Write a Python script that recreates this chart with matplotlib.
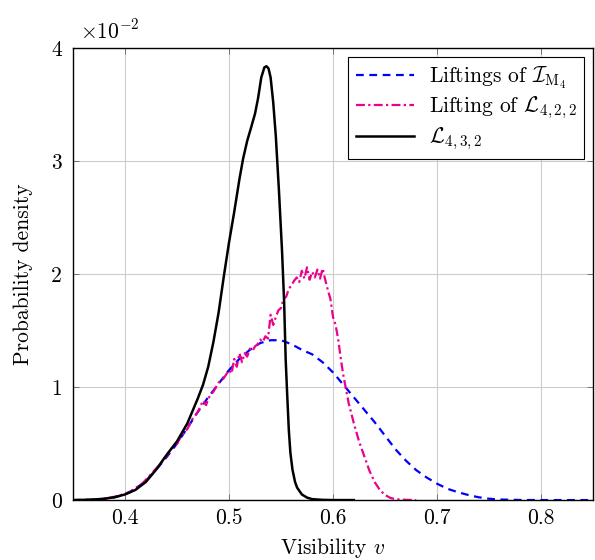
import matplotlib
matplotlib.use("Agg")
import matplotlib.pyplot as plt
import numpy as np

plt.rcParams.update({
    "font.family": "serif",
    "font.serif": ["cmr10", "DejaVu Serif"],
    "mathtext.fontset": "cm",
    "axes.formatter.use_mathtext": True,
    "font.size": 15.5,
})

# values are in units of 1e-2
blue_v = [0.35, 0.36, 0.37, 0.38, 0.39, 0.40, 0.41, 0.42, 0.43, 0.44, 0.45, 0.46,
          0.47, 0.48, 0.49, 0.50, 0.51, 0.52, 0.53, 0.54, 0.55, 0.56, 0.57, 0.58,
          0.59, 0.60, 0.61, 0.62, 0.63, 0.64, 0.65, 0.66, 0.67, 0.68, 0.69, 0.70,
          0.71, 0.72, 0.73, 0.74, 0.75, 0.76, 0.78, 0.80, 0.85]
blue_d = [0.0, 0.001, 0.003, 0.01, 0.025, 0.05, 0.10, 0.17, 0.27, 0.38, 0.50, 0.64,
          0.78, 0.91, 1.03, 1.15, 1.25, 1.33, 1.39, 1.415, 1.415, 1.38, 1.33, 1.29,
          1.22, 1.13, 1.02, 0.91, 0.80, 0.69, 0.57, 0.45, 0.35, 0.265, 0.20, 0.145,
          0.10, 0.07, 0.045, 0.025, 0.012, 0.005, 0.001, 0.0, 0.0]

mag_v = [0.350, 0.360, 0.370, 0.380, 0.390, 0.395, 0.400, 0.405, 0.410, 0.415,
         0.420, 0.425, 0.430, 0.435, 0.440, 0.445, 0.450, 0.455, 0.460, 0.465,
         0.470, 0.475, 0.478, 0.480, 0.485, 0.490, 0.495, 0.500, 0.5025, 0.505,
         0.5075, 0.510, 0.5125, 0.515, 0.5175, 0.520, 0.5225, 0.525, 0.5275, 0.530,
         0.5325, 0.535, 0.5375, 0.540, 0.5425, 0.545, 0.5475, 0.550, 0.5525, 0.555,
         0.5575, 0.560, 0.5625, 0.565, 0.5675, 0.570, 0.5725, 0.575, 0.5775, 0.580,
         0.5825, 0.585, 0.5875, 0.590, 0.5925, 0.595, 0.5975, 0.600, 0.6025, 0.605,
         0.6075, 0.610, 0.6125, 0.615, 0.620, 0.625, 0.630, 0.635, 0.640, 0.645,
         0.650, 0.655, 0.660, 0.670, 0.680]
mag_d = [0.0, 0.001, 0.004, 0.011, 0.03, 0.04, 0.06, 0.07, 0.11, 0.13,
         0.18, 0.23, 0.28, 0.33, 0.39, 0.46, 0.50, 0.58, 0.63, 0.72,
         0.78, 0.88, 0.84, 0.90, 0.96, 1.04, 1.08, 1.15, 1.12, 1.25,
         1.18, 1.30, 1.22, 1.30, 1.27, 1.34, 1.32, 1.36, 1.38, 1.42,
         1.40, 1.45, 1.43, 1.64, 1.55, 1.62, 1.68, 1.70, 1.78, 1.80,
         1.87, 1.90, 1.94, 1.97, 1.93, 2.03, 1.96, 2.06, 1.95, 2.02,
         1.97, 2.04, 1.96, 2.05, 1.95, 1.86, 1.78, 1.62, 1.55, 1.42,
         1.25, 1.10, 0.98, 0.86, 0.68, 0.52, 0.39, 0.26, 0.16, 0.09,
         0.045, 0.02, 0.008, 0.002, 0.0]

blk_v = [0.35, 0.36, 0.37, 0.38, 0.39, 0.40, 0.41, 0.42, 0.43, 0.44, 0.45, 0.46,
         0.47, 0.475, 0.48, 0.485, 0.49, 0.495, 0.50, 0.505, 0.51, 0.5135, 0.5175,
         0.521, 0.525, 0.528, 0.531, 0.534, 0.536, 0.538, 0.540, 0.5425, 0.545,
         0.548, 0.551, 0.553, 0.5545, 0.556, 0.5575, 0.559, 0.561, 0.5635, 0.5655,
         0.57, 0.575, 0.58, 0.59, 0.60, 0.62]
blk_d = [0.0, 0.002, 0.005, 0.012, 0.025, 0.05, 0.09, 0.16, 0.27, 0.40, 0.52, 0.68,
         0.90, 1.02, 1.18, 1.40, 1.66, 1.98, 2.28, 2.55, 2.84, 3.02, 3.18,
         3.29, 3.42, 3.56, 3.74, 3.83, 3.84, 3.82, 3.74, 3.52, 3.22,
         2.74, 2.20, 1.75, 1.24, 0.92, 0.62, 0.42, 0.27, 0.16, 0.11,
         0.05, 0.022, 0.008, 0.002, 0.0, 0.0]

x_ticks = [0.4, 0.5, 0.6, 0.7, 0.8]
y_ticks = [0, 1, 2, 3, 4]

fig = plt.figure(figsize=(5.95, 5.6), dpi=100)
ax = fig.add_axes([0.1227, 0.107, 0.874, 0.807])

ax.plot(blue_v, blue_d, color="#0000FF", lw=1.6, ls=(0, (3.5, 2.5)),
        label=r"Liftings of $\mathcal{I}_{\mathrm{M}_4}$")
ax.plot(mag_v, mag_d, color="#EC008C", lw=1.6, ls=(0, (4, 1.5, 1, 1.5)),
        label=r"Lifting of $\mathcal{L}_{4,2,2}$")
ax.plot(blk_v, blk_d, color="black", lw=1.8,
        label=r"$\mathcal{L}_{4,3,2}$")

ax.set_xlim(0.35, 0.85)
ax.set_ylim(0, 4)
ax.set_xticks(x_ticks)
ax.set_yticks(y_ticks)
ax.set_xticklabels([f"{t:.1f}" for t in x_ticks])
ax.set_yticklabels([str(t) for t in y_ticks])
ax.tick_params(direction="in", length=4, width=0.6, color="#666666", labelsize=15.5,
               top=True, right=True)
ax.tick_params(axis="x", pad=6)
ax.tick_params(axis="y", pad=8)
ax.grid(True, color="#CCCCCC", lw=0.8)
ax.set_axisbelow(True)
for s in ax.spines.values():
    s.set_linewidth(1.0)
    s.set_color("black")

ax.set_xlabel(r"Visibility $v$", fontsize=15.5, labelpad=6)
ax.set_ylabel("Probability density", fontsize=15.5, labelpad=13)
ax.text(0.014, 1.012, r"$\times10^{-2}$", transform=ax.transAxes,
        fontsize=15.5, ha="left", va="bottom")

leg = ax.legend(loc="upper right", fontsize=15.5, fancybox=False, framealpha=1,
                edgecolor="black", borderaxespad=0.4, handlelength=2.7,
                handletextpad=0.7, labelspacing=0.2, borderpad=0.35)
leg.get_frame().set_linewidth(0.8)

fig.savefig("out.png", dpi=100)
